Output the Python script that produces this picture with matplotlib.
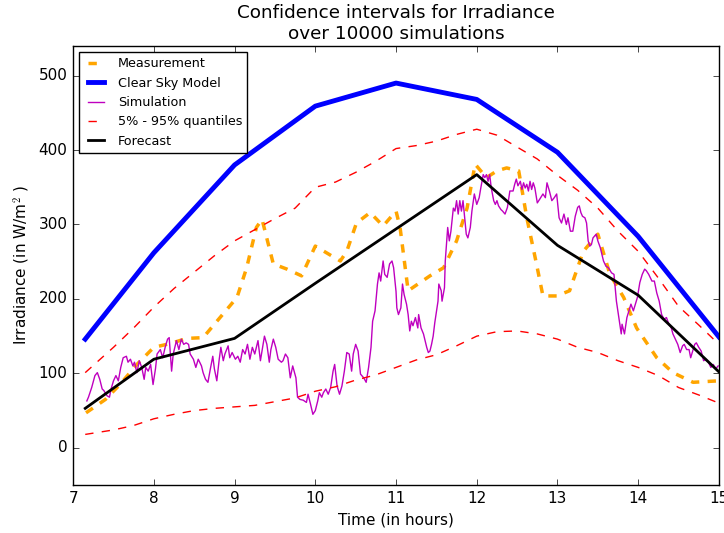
import numpy as np
import matplotlib
matplotlib.use('Agg')
import matplotlib.pyplot as plt

plt.style.use('classic')
plt.rcParams['font.size'] = 11
plt.rcParams['figure.facecolor'] = 'white'
plt.rcParams['savefig.facecolor'] = 'white'

# modele ciel clair (horaire)
clear_t = [7.15, 8, 9, 10, 11, 12, 13, 14, 15]
clear_val = [146, 262, 380, 459, 490, 468, 397, 284, 149]

# prevision (horaire)
forecast_t = [7.15, 8, 9, 10, 11, 12, 13, 14, 15]
forecast_val = [53, 119, 147, 221, 294, 367, 272, 205, 102]

# mesures
meas_t = [7.16, 7.40, 7.58, 7.79, 8.00, 8.20, 8.41, 8.61, 8.82, 9.03, 9.15, 9.27, 9.34,
          9.48, 9.65, 9.83, 10.00, 10.20, 10.31, 10.39, 10.51, 10.68, 10.84, 11.00,
          11.05, 11.15, 11.42, 11.59, 11.75, 11.88, 11.98, 12.12, 12.25, 12.37, 12.52,
          12.62, 12.74, 12.82, 12.99, 13.15, 13.32, 13.50, 13.65, 13.82, 13.98, 14.23,
          14.43, 14.68, 15.00]
meas_val = [47, 65, 85, 112, 135, 140, 147, 148, 175, 202, 242, 296, 307,
            247, 240, 231, 271, 258, 251, 264, 302, 316, 298, 318,
            296, 211, 231, 242, 278, 322, 381, 363, 372, 376, 372,
            309, 247, 204, 204, 211, 264, 287, 233, 202, 161, 121,
            101, 88, 90]

# quantiles 5% et 95%
q_t = [7.15, 7.5, 7.75, 8.0, 8.25, 8.5, 8.75, 9.0, 9.25, 9.5, 9.75, 10.0, 10.25, 10.5,
       10.75, 11.0, 11.25, 11.5, 11.75, 12.0, 12.25, 12.5, 12.75, 13.0, 13.25, 13.5,
       13.75, 14.0, 14.25, 14.5, 14.75, 15.0]
q95 = [101, 135, 161, 189, 214, 236, 258, 278, 293, 308, 322, 350, 357, 370,
       385, 402, 406, 412, 421, 428, 420, 404, 388, 366, 346, 322,
       291, 264, 228, 190, 165, 139]
q05 = [18, 24, 30, 39, 45, 50, 53, 55, 57, 62, 67, 76, 82, 91,
       98, 108, 118, 125, 137, 150, 156, 157, 153, 146, 135, 128,
       117, 108, 97, 81, 71, 60]

# une simulation
sim_t = [7.17, 7.19, 7.23, 7.27, 7.30, 7.33, 7.36, 7.38, 7.42, 7.45, 7.47, 7.50, 7.53,
         7.56, 7.59, 7.62, 7.66, 7.68, 7.71, 7.74, 7.76, 7.79, 7.82, 7.85, 7.88, 7.90,
         7.93, 7.96, 7.99, 8.02, 8.04, 8.08, 8.11, 8.14, 8.17, 8.19, 8.22, 8.24, 8.28,
         8.31, 8.34, 8.37, 8.40, 8.43, 8.45, 8.49, 8.52, 8.55, 8.59, 8.61, 8.64, 8.67,
         8.70, 8.73, 8.75, 8.78, 8.81, 8.83, 8.86, 8.88, 8.92, 8.94, 8.97, 9.01, 9.04,
         9.07, 9.10, 9.13, 9.16, 9.19, 9.22, 9.25, 9.29, 9.32, 9.34, 9.37, 9.40, 9.43,
         9.45, 9.48, 9.51, 9.54, 9.58, 9.60, 9.63, 9.66, 9.69, 9.72, 9.76, 9.78, 9.81,
         9.85, 9.89, 9.91, 9.94, 9.97, 10.00, 10.03, 10.05, 10.08, 10.10, 10.13, 10.16,
         10.19, 10.22, 10.24, 10.27, 10.30, 10.33, 10.36, 10.39, 10.42, 10.45, 10.47,
         10.50, 10.53, 10.56, 10.60, 10.63, 10.66, 10.69, 10.71, 10.74, 10.77, 10.79,
         10.81, 10.84, 10.86, 10.89, 10.92, 10.95, 10.97, 11.00, 11.01, 11.03, 11.06,
         11.08, 11.10, 11.13, 11.15, 11.17, 11.19, 11.21, 11.24, 11.27, 11.28, 11.31,
         11.34, 11.36, 11.38, 11.40, 11.42, 11.44, 11.46, 11.48, 11.52, 11.53, 11.56,
         11.57, 11.60, 11.61, 11.64, 11.66, 11.68, 11.71, 11.73, 11.75, 11.77, 11.79,
         11.81, 11.83, 11.85, 11.87, 11.89, 11.92, 11.94, 11.97, 12.00, 12.03, 12.05,
         12.08, 12.10, 12.12, 12.14, 12.16, 12.18, 12.21, 12.23, 12.25, 12.27, 12.30,
         12.32, 12.35, 12.38, 12.41, 12.45, 12.47, 12.49, 12.51, 12.54, 12.56, 12.58,
         12.60, 12.62, 12.64, 12.66, 12.68, 12.70, 12.72, 12.75, 12.78, 12.82, 12.85,
         12.87, 12.90, 12.93, 12.96, 12.99, 13.02, 13.05, 13.08, 13.11, 13.13, 13.16,
         13.19, 13.22, 13.25, 13.27, 13.29, 13.31, 13.34, 13.36, 13.38, 13.40, 13.42,
         13.44, 13.48, 13.50, 13.53, 13.55, 13.57, 13.60, 13.63, 13.67, 13.70, 13.73,
         13.76, 13.79, 13.80, 13.83, 13.86, 13.89, 13.91, 13.94, 13.97, 13.99, 14.02,
         14.05, 14.08, 14.10, 14.13, 14.17, 14.20, 14.23, 14.26, 14.29, 14.32, 14.35,
         14.38, 14.41, 14.43, 14.46, 14.49, 14.52, 14.55, 14.57, 14.60, 14.63, 14.65,
         14.67, 14.70, 14.72, 14.75, 14.78, 14.81, 14.84, 14.87, 14.90, 14.93, 14.96,
         14.99]
sim_val = [63, 68, 81, 97, 101, 92, 79, 77, 70, 68, 79, 90, 97,
           90, 108, 121, 123, 115, 119, 110, 115, 101, 117, 108, 92, 108,
           103, 112, 85, 106, 126, 132, 121, 135, 146, 148, 103, 126, 144,
           132, 146, 139, 141, 139, 126, 119, 108, 119, 110, 101, 92, 88,
           106, 123, 106, 90, 119, 135, 117, 126, 137, 121, 128, 119, 123,
           115, 132, 126, 139, 119, 135, 126, 144, 117, 130, 150, 139, 115,
           132, 146, 135, 119, 115, 117, 126, 121, 94, 110, 94, 68, 65,
           64, 61, 72, 59, 45, 50, 63, 74, 68, 74, 79, 72,
           81, 103, 112, 83, 72, 83, 103, 128, 126, 103, 126,
           139, 130, 99, 94, 88, 108, 135, 170, 184, 220, 235,
           224, 251, 233, 229, 247, 251, 242, 210, 188, 179, 188,
           220, 206, 193, 179, 157, 170, 164, 175, 161, 179, 161,
           153, 144, 135, 128, 130, 139, 150, 168, 197, 220, 211,
           197, 215, 251, 296, 278, 291, 322, 318, 332, 314, 332,
           318, 332, 309, 287, 282, 296, 318, 341, 327, 336, 349,
           367, 363, 367, 358, 367, 349, 332, 327, 332, 325, 320,
           318, 314, 323, 345, 345, 354, 361, 352, 358, 347, 356,
           349, 354, 345, 358, 347, 356, 349, 329, 334, 341, 336,
           356, 345, 332, 336, 341, 309, 302, 314, 300, 309, 291,
           291, 311, 323, 325, 316, 311, 309, 302, 278, 271, 273,
           282, 287, 278, 269, 260, 251, 244, 242, 235, 233, 197,
           175, 153, 166, 153, 175, 186, 193, 184, 195, 202, 222,
           233, 240, 238, 233, 224, 224, 208, 197, 179, 173, 175,
           166, 161, 153, 146, 139, 128, 137, 139, 132, 132, 121,
           128, 139, 141, 135, 130, 117, 119, 115, 108, 112, 106,
           110]

fig = plt.figure(figsize=(7.24, 5.33), dpi=100)
ax = fig.add_axes([0.101, 0.09, 0.892, 0.824])

ax.plot(meas_t, meas_val, '--', color='orange', lw=2.5, label='Measurement')
ax.plot(clear_t, clear_val, '-', color='b', lw=3.5, label='Clear Sky Model')
ax.plot(sim_t, sim_val, '-', color='m', lw=1, label='Simulation')
ax.plot(q_t, q95, '--', color='r', lw=1, label='5% - 95% quantiles')
ax.plot(q_t, q05, '--', color='r', lw=1)
ax.plot(forecast_t, forecast_val, '-', color='k', lw=2, label='Forecast')

ax.set_xlim(7, 15)
ax.set_ylim(-50, 540)
ax.set_xticks(np.arange(7, 16, 1))
ax.set_yticks(np.arange(0, 600, 100))
ax.set_xlabel('Time (in hours)')
ax.set_ylabel('Irradiance (in W/m$^2$ )')
ax.set_title('Confidence intervals for Irradiance\nover 10000 simulations')
ax.legend(loc='upper left', fontsize='small', handlelength=1.8)

fig.savefig('out.png', dpi=100)
